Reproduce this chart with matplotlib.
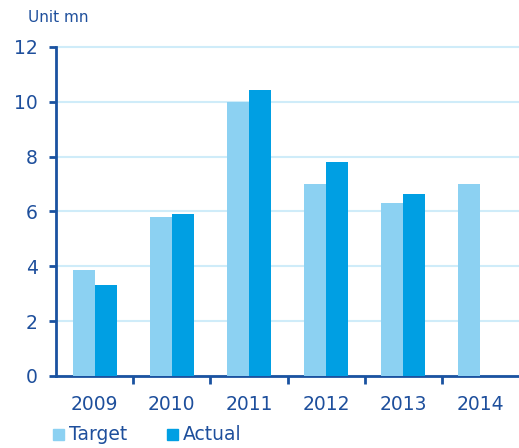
import numpy as np
import matplotlib
matplotlib.use('Agg')
import matplotlib.pyplot as plt
from matplotlib.patches import Rectangle

years  = ['2009', '2010', '2011', '2012', '2013', '2014']
target = [3.85, 5.8, 10.0, 7.0, 6.3, 7.0]
actual = [3.32, 5.9, 10.44, 7.8, 6.64, np.nan]

C_TARGET = '#8CD1F2'
C_ACTUAL = '#009FE3'
C_TEXT   = '#1E4F9C'
C_AXIS   = '#1A52A0'
C_GRID   = '#CFECF9'

plt.rcParams['font.family'] = ['DejaVu Sans']

fig = plt.figure(figsize=(5.19, 4.48), dpi=100)
ax = fig.add_axes([0.108, 0.161, 0.892, 0.7404])

x = np.arange(len(years))
w = 0.285
ax.bar(x - w / 2, target, w, color=C_TARGET, zorder=3)
ax.bar(x + w / 2, actual, w, color=C_ACTUAL, zorder=3)

# a little headroom so the gridline at 12 is not clipped
ax.set_xlim(-0.5, len(years) - 0.5)
ax.set_ylim(0, 12.1)
ax.set_yticks(range(0, 13, 2))
ax.yaxis.grid(True, color=C_GRID, lw=1.5, zorder=0)
ax.set_axisbelow(True)

ax.set_xticks(x)
ax.set_xticklabels(years)
ax.set_xticks(np.arange(0.5, len(years) - 1, 1.0), minor=True)
ax.tick_params(axis='x', which='major', length=0, pad=14,
               labelsize=13.5, labelcolor=C_TEXT)
ax.tick_params(axis='x', which='minor', length=6, width=2,
               direction='out', color=C_AXIS)
ax.tick_params(axis='y', length=5, width=2, color=C_AXIS,
               labelsize=13.5, labelcolor=C_TEXT, pad=8)

for s in ('top', 'right'):
    ax.spines[s].set_visible(False)
for s in ('left', 'bottom'):
    ax.spines[s].set_color(C_AXIS)
    ax.spines[s].set_linewidth(2)
ax.spines['left'].set_bounds(0, 12)

fig.text(0.054, 0.96, 'Unit mn', color=C_TEXT, fontsize=11, va='center')

# legend drawn manually along the bottom
for lx, col, label in [(0.102, C_TARGET, 'Target'), (0.322, C_ACTUAL, 'Actual')]:
    fig.patches.append(Rectangle((lx, 0.018), 0.021, 0.025, color=col,
                                 transform=fig.transFigure, figure=fig))
    fig.text(lx + 0.031, 0.031, label, color=C_TEXT, fontsize=13.5, va='center')

fig.savefig('out.png', dpi=100)
